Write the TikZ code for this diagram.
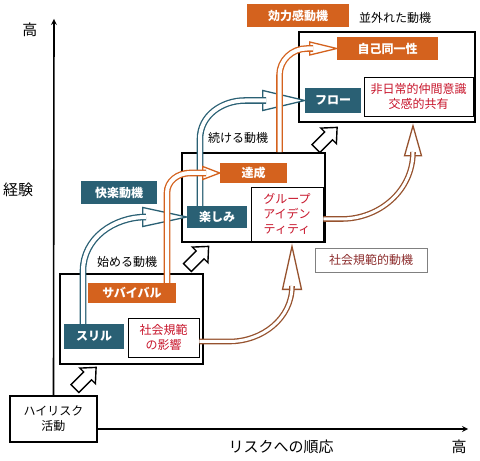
\documentclass[tikz,border=0pt]{standalone}
\usepackage{fontspec}
\setmainfont{Noto Sans CJK JP}
\usetikzlibrary{arrows,calc}
\definecolor{tealc}{RGB}{42,96,116}
\definecolor{orc}{RGB}{212,98,30}
\definecolor{brc}{RGB}{150,82,46}
\definecolor{redc}{RGB}{200,22,44}
\definecolor{dredc}{RGB}{140,45,45}
\tikzset{
  txt/.style={font=\fontsize{12}{15}\selectfont},
  axlbl/.style={font=\fontsize{15}{17}\selectfont},
  tbox/.style={font=\fontsize{12}{15}\selectfont\bfseries,fill=tealc,text=white,inner sep=0pt},
  obox/.style={font=\fontsize{12}{15}\selectfont\bfseries,fill=orc,text=white,inner sep=0pt},
  rbox/.style={txt,draw=black,line width=0.8pt,fill=white,text=redc,align=center,inner sep=0pt},
  stage/.style={draw=black,line width=1.6pt,fill=white,inner sep=0pt},
  blk/.style={draw=black,line width=1.4pt,fill=white,line join=miter},
  tshaft/.style={draw=tealc,double=white,line width=1.3pt,double distance=4pt},
  thead/.style={draw=tealc,fill=white,line width=1.3pt},
  oshaft/.style={draw=orc,double=white,line width=1.3pt,double distance=4pt},
  ohead/.style={draw=orc,fill=white,line width=1.3pt},
  bshaft/.style={draw=brc,double=white,line width=1.3pt,double distance=3pt},
  bhead/.style={draw=brc,fill=white,line width=1.3pt},
  axis/.style={line width=1.6pt,->}
}
\begin{document}
\begin{tikzpicture}[x=1pt,y=1pt,>=stealth]
\useasboundingbox (0,0) rectangle (480,461);
% axes
\node[stage,txt,align=center,minimum width=87,minimum height=46] (hr) at (53.5,42) {ハイリスク\\活動};
\coordinate (ytop) at (54,442);
\coordinate (xend) at (468,32);
\draw[axis] (hr.north) -- (ytop);
\draw[axis] (hr.east |- xend) -- (xend);
\node[axlbl] (yhi) at (30,431) {高};
\node[axlbl] (ylab) at (18,271) {経験};
\node[axlbl] (xlab) at (281,14) {リスクへの順応};
\node[axlbl] (xhi) at (459,14) {高};
% stage 1
\node[stage,minimum width=143,minimum height=90] (s1) at (131.5,142) {};
\node[obox,minimum width=88,minimum height=20] (sv) at (132,168) {サバイバル};
\node[tbox,minimum width=60,minimum height=25] (sr) at (94,124.5) {スリル};
\node[rbox,minimum width=71,minimum height=39] (sn) at (163.5,123.5) {社会規範\\の影響};
\node[txt] (m1) at (127,199) {始める動機};
% stage 2
\node[stage,minimum width=143,minimum height=89] (s2) at (253.5,263.5) {};
\node[obox,minimum width=67,minimum height=20] (ts) at (253.5,288) {達成};
\node[tbox,minimum width=60,minimum height=22] (tn) at (217,244) {楽しみ};
\node[rbox,minimum width=72,minimum height=54] (gi) at (287,247) {グループ\\アイデン\\ティティ};
\node[txt] (m2) at (238,323) {続ける動機};
% stage 3
\node[stage,minimum width=176,minimum height=90] (s3) at (387,384) {};
\node[obox,minimum width=101,minimum height=23] (ji) at (387.5,412.5) {自己同一性};
\node[tbox,minimum width=56,minimum height=25] (fl) at (333,360.5) {フロー};
\node[rbox,minimum width=109,minimum height=39] (hn) at (418.5,364.5) {非日常的仲間意識\\交感的共有};
\node[obox,minimum width=102,minimum height=23] (ko) at (298,445.5) {効力感動機};
\node[txt] (m3) at (395,443) {並外れた動機};
\node[tbox,minimum width=76,minimum height=23] (kr) at (119,268.5) {快楽動機};
\node[txt,draw=gray,line width=0.8pt,text=dredc,inner sep=0pt,minimum width=112,minimum height=24] (sm) at (371,201) {社会規範的動機};
% step arrows
\foreach \p in {(85.5,83),(198,204),(326.5,323)}
  \filldraw[blk,shift={\p},rotate=45] (-15,-5.5) -- (3,-5.5) -- (3,-11) -- (15,0)
    -- (3,11) -- (3,5.5) -- (-15,5.5) -- cycle;
% teal
\filldraw[thead] (tn.west) -- ++(-44,9.5) -- ++(0,-19) -- cycle;
\draw[tshaft] ($(sr.north)+(-11,0)$) -- ++(0,53) to[out=90,in=180] (146,244);
\filldraw[thead] (fl.west) -- ++(-42,10) -- ++(0,-20) -- cycle;
\draw[tshaft] ($(tn.north)+(-17,0)$) -- ++(0,67) to[out=90,in=180] (245,360.5) -- (266,360.5);
% orange
\filldraw[ohead] (ts.west) -- ++(-17,6.5) -- ++(0,-13) -- cycle;
\draw[oshaft] ($(sv.north)+(35,0)$) -- ++(0,90) to[out=90,in=180] (190,288) -- (206,288);
\filldraw[ohead] (ji.west) -- ++(-27,6.5) -- ++(0,-13) -- cycle;
\draw[oshaft] ($(s2.north)+(26,0)$) -- ++(0,77) to[out=90,in=180] (307,412.5) -- (313,412.5);
% brown
\filldraw[bhead] ($(gi.south)+(5,-5)$) -- ++(-9.5,-43) -- ++(19,0) -- cycle;
\draw[bshaft] ($(sn.east)+(0,-4)$) -- ++(30,0) to[out=0,in=-90] (292,175);
\filldraw[bhead] ($(s3.south)+(26,-3)$) -- ++(-8.5,-30) -- ++(17,0) -- cycle;
\draw[bshaft] ($(gi.east)+(0,-5)$) -- ++(18,0) to[out=0,in=-90] (413,309);
\end{tikzpicture}
\end{document}
